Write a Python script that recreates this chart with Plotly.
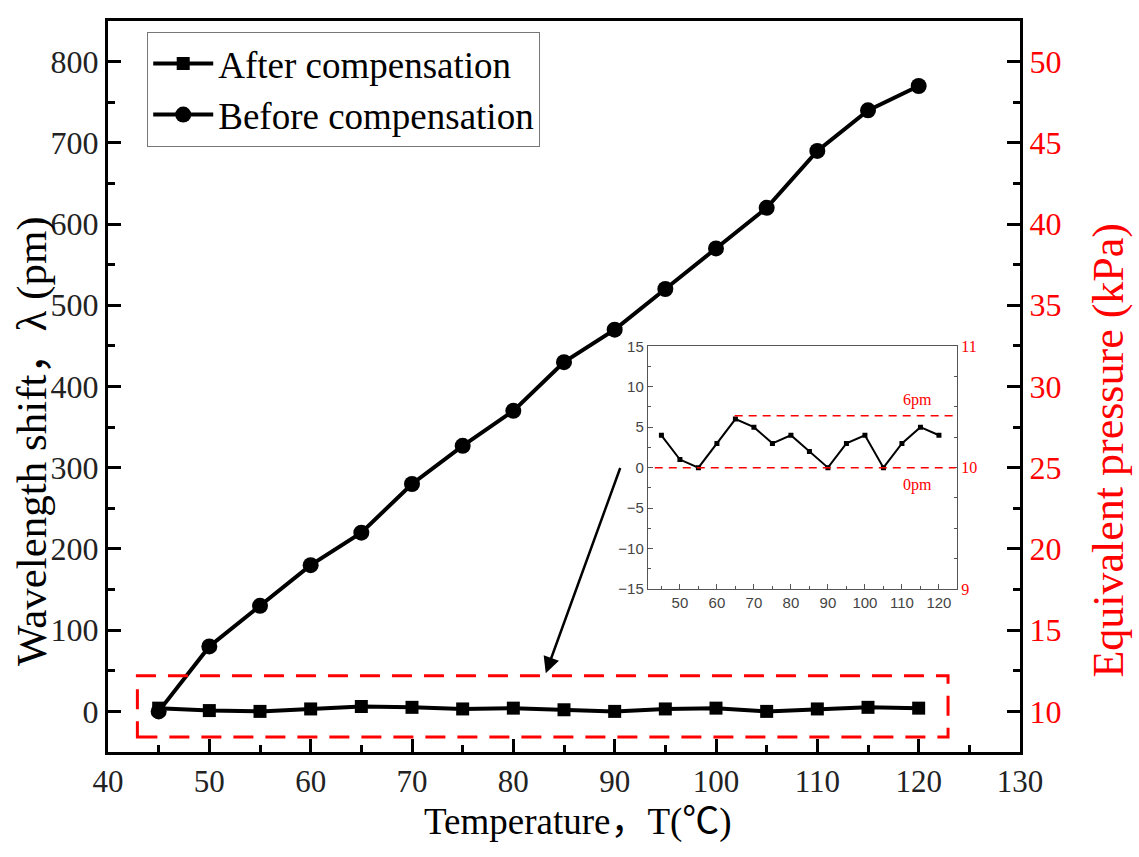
import plotly.graph_objects as go

# ---- data ----
temperature = [45, 50, 55, 60, 65, 70, 75, 80, 85, 90, 95, 100, 105, 110, 115, 120]
before_comp = [0, 80, 130, 180, 220, 280, 327, 370, 430, 470, 520, 570, 620, 690, 740, 770]
after_comp = [4, 1, 0, 3, 6, 5, 3, 4, 2, 0, 3, 4, 0, 3, 5, 4]

x_ticks = [40, 50, 60, 70, 80, 90, 100, 110, 120, 130]
y_ticks = [0, 100, 200, 300, 400, 500, 600, 700, 800]
p_ticks = [10, 15, 20, 25, 30, 35, 40, 45, 50]
inset_x_ticks = [50, 60, 70, 80, 90, 100, 110, 120]
inset_y_ticks = [-15, -10, -5, 0, 5, 10, 15]
inset_p_ticks = [9, 10, 11]

SERIF = "Liberation Serif"
TITLE_FONT = "Liberation Serif, Noto Sans CJK SC"
SANS = "Liberation Sans"
RED = "#ff0000"

fig = go.Figure()

fig.add_trace(go.Scatter(
    x=temperature, y=after_comp, name="After compensation", mode="lines+markers",
    line=dict(color="black", width=4), marker=dict(symbol="square", size=13, color="black"),
    xaxis="x", yaxis="y"))
fig.add_trace(go.Scatter(
    x=temperature, y=before_comp, name="Before compensation", mode="lines+markers",
    line=dict(color="black", width=4), marker=dict(symbol="circle", size=16, color="black"),
    xaxis="x", yaxis="y"))
# placeholder so the right-hand axis is drawn
fig.add_trace(go.Scatter(x=[None], y=[None], xaxis="x", yaxis="y2", showlegend=False, hoverinfo="skip"))

# inset
fig.add_trace(go.Scatter(
    x=temperature, y=after_comp, mode="lines+markers", showlegend=False,
    line=dict(color="black", width=2), marker=dict(symbol="square", size=5, color="black"),
    xaxis="x2", yaxis="y3"))
fig.add_trace(go.Scatter(x=[None], y=[None], xaxis="x2", yaxis="y4", showlegend=False, hoverinfo="skip"))

main_tick = dict(ticks="inside", ticklen=13, tickwidth=3, tickcolor="black",
                 showline=True, linecolor="black", linewidth=3, showgrid=False, zeroline=False,
                 tickfont=dict(family=SERIF, size=31, color="#222"))
inset_tick = dict(ticks="inside", ticklen=5, tickwidth=1, tickcolor="#555",
                  showline=True, linecolor="#555", linewidth=1.2, showgrid=False, zeroline=False,
                  tickfont=dict(family=SANS, size=15, color="#444"))

fig.update_layout(
    width=1139, height=857,
    margin=dict(l=108, r=119, t=13, b=105),
    paper_bgcolor="white", plot_bgcolor="white",
    font=dict(family=SERIF),
    xaxis=dict(domain=[0, 1], range=[40, 130], tickvals=x_ticks, mirror=True,
               minor=dict(dtick=5, tick0=40, ticks="inside", ticklen=7, tickwidth=3, tickcolor="black"),
               anchor="y", **main_tick),
    yaxis=dict(domain=[0, 1], range=[-50, 850], tickvals=y_ticks,
               minor=dict(dtick=50, tick0=0, ticks="inside", ticklen=7, tickwidth=3, tickcolor="black"),
               anchor="x", **{**main_tick, "tickfont": dict(family=SERIF, size=32, color="#222")}),
    yaxis2=dict(overlaying="y", side="right", anchor="x", range=[7.5, 52.5], tickvals=p_ticks,
                minor=dict(dtick=2.5, tick0=10, ticks="inside", ticklen=7, tickwidth=3, tickcolor="black"),
                **{**main_tick, "tickfont": dict(family=SERIF, size=32, color=RED)}),
    xaxis2=dict(domain=[0.592, 0.931], range=[41.35, 124.9], tickvals=inset_x_ticks, anchor="y3", mirror=True,
                minor=dict(dtick=5, tick0=45, ticks="inside", ticklen=3, tickwidth=1, tickcolor="#555"),
                **inset_tick),
    yaxis3=dict(domain=[0.223, 0.555], range=[-15, 15], tickvals=inset_y_ticks, anchor="x2",
                ticktext=["−15", "−10", "−5", "0", "5", "10", "15"],
                minor=dict(dtick=2.5, tick0=0, ticks="inside", ticklen=3, tickwidth=1, tickcolor="#555"),
                **inset_tick),
    yaxis4=dict(overlaying="y3", side="right", anchor="x2", range=[9, 11], tickvals=inset_p_ticks,
                minor=dict(dtick=0.25, tick0=9, ticks="inside", ticklen=3, tickwidth=1, tickcolor="#555"),
                **{**inset_tick, "tickfont": dict(family=SERIF, size=16, color=RED)}),
    legend=dict(x=0.043, y=0.985, xanchor="left", yanchor="top",
                font=dict(family=SERIF, size=37, color="black"),
                bordercolor="#777", borderwidth=1, bgcolor="white",
                tracegroupgap=0, itemwidth=60),
    showlegend=True,
)

shapes = [
    dict(type="rect", xref="x", yref="y", x0=42.9, x1=122.9, y0=-31.6, y1=43.8,
         line=dict(color=RED, width=3, dash="20px,12px")),
    dict(type="line", xref="x2", yref="y3", x0=43.2, x1=124.5, y0=0, y1=0,
         line=dict(color=RED, width=1.5, dash="8px,6px")),
    dict(type="line", xref="x2", yref="y3", x0=64.8, x1=124.5, y0=6.4, y1=6.4,
         line=dict(color=RED, width=1.5, dash="8px,6px")),
]
fig.update_layout(shapes=shapes)

annotations = [
    dict(x=83.2, y=47, ax=90.6, ay=301.5, xref="x", yref="y", axref="x", ayref="y",
         showarrow=True, arrowhead=2, arrowsize=1.3, arrowwidth=2.5, arrowcolor="black", text=""),
    dict(x=114.3, y=8.4, xref="x2", yref="y3", text="6pm", showarrow=False,
         font=dict(family=SERIF, size=16, color=RED)),
    dict(x=114.3, y=-2.1, xref="x2", yref="y3", text="0pm", showarrow=False,
         font=dict(family=SERIF, size=16, color=RED)),
    dict(x=-0.084, y=0.426, xref="paper", yref="paper", text="Wavelength shift，λ (pm)",
         textangle=-90, showarrow=False, xanchor="center", yanchor="middle",
         font=dict(family=TITLE_FONT, size=43, color="black")),
    dict(x=1.097, y=0.413, xref="paper", yref="paper", text="Equivalent pressure (kPa)",
         textangle=-90, showarrow=False, xanchor="center", yanchor="middle",
         font=dict(family=SERIF, size=44, color=RED)),
    dict(x=0.515, y=-0.096, xref="paper", yref="paper", text="Temperature，T(℃)",
         showarrow=False, xanchor="center", yanchor="middle",
         font=dict(family=TITLE_FONT, size=37, color="black")),
]
fig.update_layout(annotations=annotations)

fig.write_html("out.html", config={"displayModeBar": False},
               post_script="document.body.style.margin='0';document.body.style.overflow='hidden';")
